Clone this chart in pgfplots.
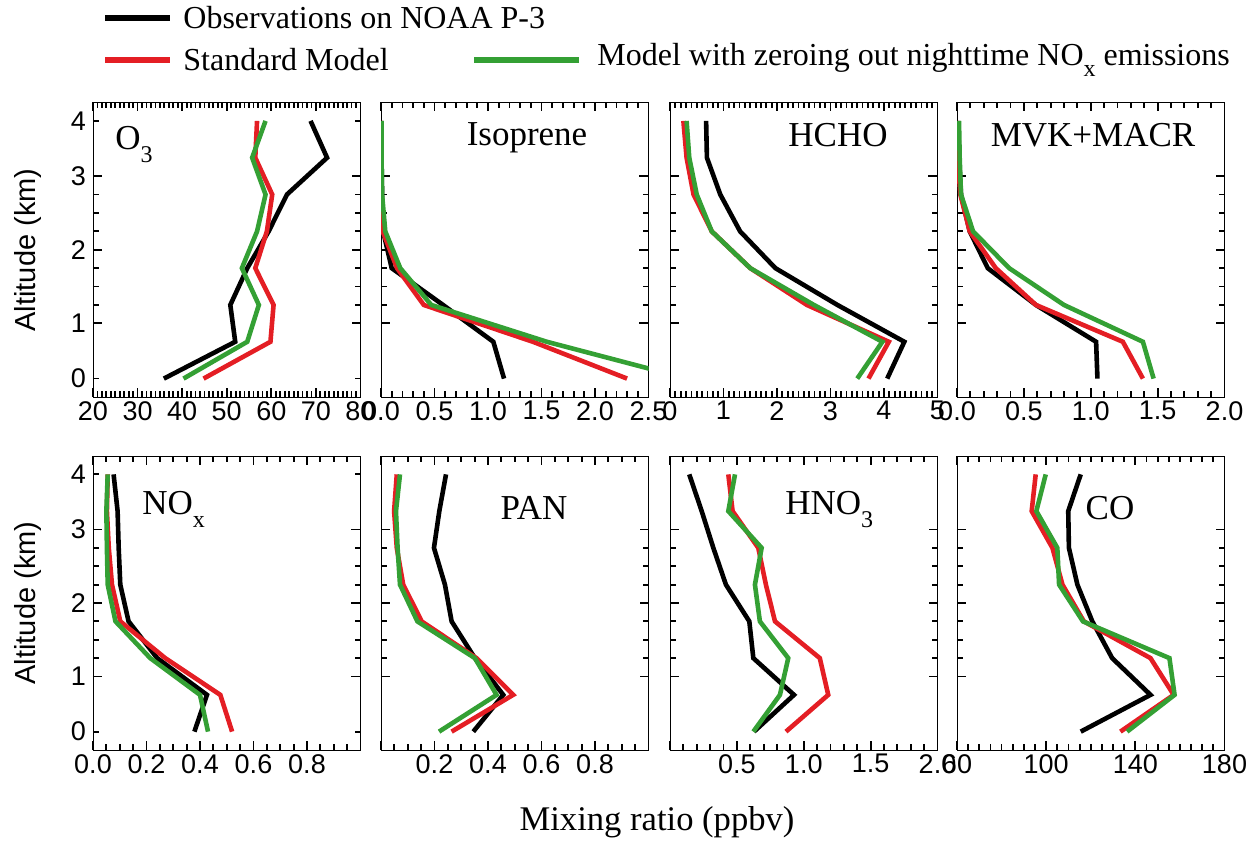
\documentclass[border=0pt]{standalone}
\usepackage{fontspec}
\setmainfont{Liberation Serif}
\setsansfont{Liberation Sans}
\usepackage{pgfplots}
\pgfplotsset{compat=1.18}
\definecolor{stdred}{RGB}{228,30,36}
\definecolor{zgreen}{RGB}{52,160,52}
\pgfplotsset{
 panel/.style={
  scale only axis, width=133.75pt, height=147.25pt, anchor=south west,
  ymin=0, ymax=4, ytick={1,2,3}, minor y tick num=3,
  tick align=inside,
  major tick length=4.5pt, minor tick length=2.8pt,
  xtick style={black, line width=0.9pt},
  ytick style={black, line width=0.9pt},
  ticklabel style={font=\fontsize{13.5}{13.5}\selectfont\sffamily},
  xticklabel style={inner sep=0pt, yshift=-2pt},
 },
 leftcol/.style={yticklabels={1,2,3}, extra y ticks={0.25,3.75},
  extra y tick labels={0,4}, extra y tick style={major tick length=2.8pt}},
 nolab/.style={yticklabels={}},
}
\newcommand{\sub}[1]{\raisebox{-0.35em}{\fontsize{12}{12}\selectfont #1}}
\begin{document}
\begin{tikzpicture}
% ---------- O3
\begin{axis}[panel, leftcol, at={(46.5pt,-198.5pt)}, xmin=20, xmax=80,
  xtick={20,30,...,80}, xticklabels={20,30,40,50,60,70,80}, minor x tick num=9]
\addplot[black, line width=2.3pt, mark=none] coordinates {(35.9,0.25)(51.9,0.75)(50.8,1.25)(54.6,1.75)(59.4,2.25)(63.5,2.75)(72.5,3.25)(68.8,3.75)};
\addplot[stdred, line width=2.3pt, mark=none] coordinates {(44.8,0.25)(59.8,0.75)(60.5,1.25)(56.4,1.75)(59.0,2.25)(60.2,2.75)(56.4,3.25)(56.8,3.75)};
\addplot[zgreen, line width=2.3pt, mark=none] coordinates {(40.3,0.25)(54.6,0.75)(57.2,1.25)(53.4,1.75)(56.8,2.25)(58.7,2.75)(55.7,3.25)(58.7,3.75)};
\end{axis}
% ---------- Isoprene
\begin{axis}[panel, nolab, at={(190.5pt,-198.5pt)}, xmin=0, xmax=2.5,
  xtick={0,0.5,1,1.5,2,2.5}, xticklabels={0.0,0.5,1.0,1.5,2.0,2.5}, minor x tick num=4]
\addplot[black, line width=2.3pt, mark=none] coordinates {(1.15,0.25)(1.05,0.75)(0.58,1.25)(0.10,1.75)(0.02,2.25)(0.01,2.75)(0.005,3.25)(0.0,3.75)};
\addplot[stdred, line width=2.3pt, mark=none] coordinates {(2.30,0.25)(1.42,0.75)(0.40,1.25)(0.15,1.75)(0.015,2.25)(0.005,2.75)(0.002,3.25)(0.0,3.75)};
\addplot[zgreen, line width=2.3pt, mark=none] coordinates {(2.86,0.25)(1.55,0.75)(0.47,1.25)(0.18,1.75)(0.04,2.25)(0.01,2.75)(0.005,3.25)(0.005,3.75)};
\end{axis}
% ---------- HCHO
\begin{axis}[panel, nolab, at={(335pt,-198.5pt)}, xmin=0, xmax=5,
  xtick={0,1,2,3,4,5}, xticklabels={0,1,2,3,4,5}, minor x tick num=9]
\addplot[black, line width=2.3pt, mark=none] coordinates {(4.06,0.25)(4.38,0.75)(3.13,1.25)(1.97,1.75)(1.31,2.25)(0.94,2.75)(0.69,3.25)(0.675,3.75)};
\addplot[stdred, line width=2.3pt, mark=none] coordinates {(3.71,0.25)(4.09,0.75)(2.56,1.25)(1.50,1.75)(0.78,2.25)(0.44,2.75)(0.31,3.25)(0.25,3.75)};
\addplot[zgreen, line width=2.3pt, mark=none] coordinates {(3.50,0.25)(3.97,0.75)(2.69,1.25)(1.50,1.75)(0.78,2.25)(0.50,2.75)(0.36,3.25)(0.31,3.75)};
\end{axis}
% ---------- MVK+MACR
\begin{axis}[panel, nolab, at={(478.5pt,-198.5pt)}, xmin=0, xmax=2,
  xtick={0,0.5,1,1.5,2}, xticklabels={0.0,0.5,1.0,1.5,2.0}, minor x tick num=4]
\addplot[black, line width=2.3pt, mark=none] coordinates {(1.05,0.25)(1.04,0.75)(0.59,1.25)(0.23,1.75)(0.095,2.25)(0.03,2.75)(0.015,3.25)(0.01,3.75)};
\addplot[stdred, line width=2.3pt, mark=none] coordinates {(1.39,0.25)(1.24,0.75)(0.59,1.25)(0.29,1.75)(0.095,2.25)(0.025,2.75)(0.005,3.25)(0.0,3.75)};
\addplot[zgreen, line width=2.3pt, mark=none] coordinates {(1.47,0.25)(1.39,0.75)(0.80,1.25)(0.39,1.75)(0.12,2.25)(0.03,2.75)(0.02,3.25)(0.015,3.75)};
\end{axis}
% ---------- NOx
\begin{axis}[panel, leftcol, at={(46.5pt,-375pt)}, height=147pt, xmin=0, xmax=1,
  xtick={0,0.2,0.4,0.6,0.8,1.0}, xticklabels={0.0,0.2,0.4,0.6,0.8,}, minor x tick num=3]
\addplot[black, line width=2.3pt, mark=none] coordinates {(0.379,0.25)(0.426,0.75)(0.24,1.25)(0.133,1.75)(0.102,2.25)(0.096,2.75)(0.092,3.25)(0.077,3.75)};
\addplot[stdred, line width=2.3pt, mark=none] coordinates {(0.52,0.25)(0.476,0.75)(0.27,1.25)(0.102,1.75)(0.071,2.25)(0.059,2.75)(0.052,3.25)(0.055,3.75)};
\addplot[zgreen, line width=2.3pt, mark=none] coordinates {(0.43,0.25)(0.40,0.75)(0.214,1.25)(0.084,1.75)(0.055,2.25)(0.052,2.75)(0.05,3.25)(0.055,3.75)};
\end{axis}
% ---------- PAN
\begin{axis}[panel, nolab, at={(190.5pt,-375pt)}, height=147pt, xmin=0, xmax=1,
  xtick={0,0.2,0.4,0.6,0.8,1.0}, xticklabels={,0.2,0.4,0.6,0.8,}, minor x tick num=3]
\addplot[black, line width=2.3pt, mark=none] coordinates {(0.345,0.25)(0.457,0.75)(0.351,1.25)(0.264,1.75)(0.239,2.25)(0.198,2.75)(0.218,3.25)(0.243,3.75)};
\addplot[stdred, line width=2.3pt, mark=none] coordinates {(0.264,0.25)(0.494,0.75)(0.357,1.25)(0.152,1.75)(0.083,2.25)(0.059,2.75)(0.049,3.25)(0.059,3.75)};
\addplot[zgreen, line width=2.3pt, mark=none] coordinates {(0.217,0.25)(0.432,0.75)(0.351,1.25)(0.136,1.75)(0.071,2.25)(0.062,2.75)(0.056,3.25)(0.071,3.75)};
\end{axis}
% ---------- HNO3
\begin{axis}[panel, nolab, at={(335pt,-375pt)}, height=147pt, xmin=0, xmax=2,
  xtick={0,0.5,1,1.5,2}, xticklabels={,0.5,1.0,1.5,2.0}, minor x tick num=4]
\addplot[black, line width=2.3pt, mark=none] coordinates {(0.628,0.25)(0.927,0.75)(0.623,1.25)(0.593,1.75)(0.418,2.25)(0.324,2.75)(0.237,3.25)(0.144,3.75)};
\addplot[stdred, line width=2.3pt, mark=none] coordinates {(0.867,0.25)(1.183,0.75)(1.12,1.25)(0.785,1.75)(0.717,2.25)(0.66,2.75)(0.468,3.25)(0.436,3.75)};
\addplot[zgreen, line width=2.3pt, mark=none] coordinates {(0.623,0.25)(0.822,0.75)(0.884,1.25)(0.672,1.75)(0.635,2.25)(0.685,2.75)(0.436,3.25)(0.486,3.75)};
\end{axis}
% ---------- CO
\begin{axis}[panel, nolab, at={(478.5pt,-375pt)}, height=147pt, xmin=60, xmax=180,
  xtick={60,100,140,180}, xticklabels={60,100,140,180}, minor x tick num=7]
\addplot[black, line width=2.3pt, mark=none] coordinates {(115.5,0.25)(146.8,0.75)(129.6,1.25)(120.7,1.75)(114.0,2.25)(110.2,2.75)(109.9,3.25)(115.5,3.75)};
\addplot[stdred, line width=2.3pt, mark=none] coordinates {(133.3,0.25)(157.2,0.75)(146.8,1.25)(116.9,1.75)(107.3,2.25)(102.8,2.75)(93.5,3.25)(95.3,3.75)};
\addplot[zgreen, line width=2.3pt, mark=none] coordinates {(136.3,0.25)(157.6,0.75)(155.3,1.25)(116.5,1.75)(105.8,2.25)(105.0,2.75)(95.6,3.25)(99.8,3.75)};
\end{axis}
% ---------- panel titles
\begin{scope}[every node/.style={inner sep=0pt, font=\fontsize{17.5}{17.5}\selectfont}]
\node[anchor=base west] at (57.5pt,-75pt) {O\sub{3}};
\node[anchor=base] at (263.5pt,-73pt) {Isoprene};
\node[anchor=base] at (419pt,-73.5pt) {HCHO};
\node[anchor=base] at (546.5pt,-73.5pt) {MVK+MACR};
\node[anchor=base west] at (71pt,-257.5pt) {NO\sub{x}};
\node[anchor=base] at (267pt,-260pt) {PAN};
\node[anchor=base west] at (392.5pt,-257.5pt) {HNO\sub{3}};
\node[anchor=base] at (555pt,-260pt) {CO};
\end{scope}
% ---------- axis labels
\node[rotate=90, font=\fontsize{14.5}{14.5}\selectfont\sffamily] at (14pt,-125pt) {Altitude (km)};
\node[rotate=90, font=\fontsize{14.5}{14.5}\selectfont\sffamily] at (14pt,-301.5pt) {Altitude (km)};
\node[font=\fontsize{17.3}{17.3}\selectfont] at (328.5pt,-411pt) {Mixing ratio (ppbv)};
% ---------- legend
\draw[black, line width=2.6pt] (52.5pt,-9pt) -- (85pt,-9pt);
\node[anchor=west, inner sep=0pt, font=\fontsize{16}{16}\selectfont] at (91.5pt,-9pt) {Observations on NOAA P-3};
\draw[stdred, line width=2.6pt] (52.5pt,-30pt) -- (85pt,-30pt);
\node[anchor=west, inner sep=0pt, font=\fontsize{16}{16}\selectfont] at (91.5pt,-30pt) {Standard Model};
\draw[zgreen, line width=2.6pt] (237pt,-30pt) -- (289.5pt,-30pt);
\node[anchor=west, inner sep=0pt, font=\fontsize{16}{16}\selectfont] at (298.5pt,-30pt) {Model with zeroing out nighttime NO\sub{x} emissions};
% ---------- page frame (invisible)
\path (0,0) rectangle (626.5pt,-424.5pt);
\end{tikzpicture}
\end{document}
